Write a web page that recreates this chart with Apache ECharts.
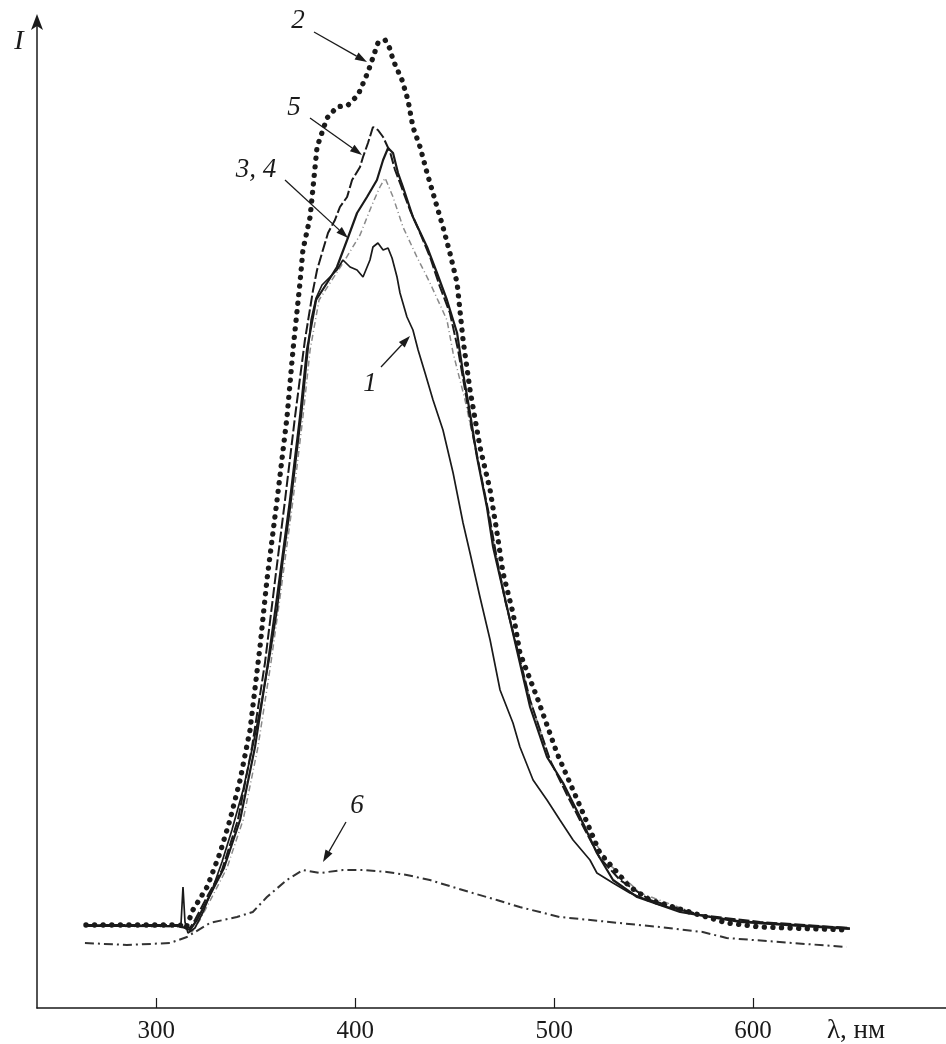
<!DOCTYPE html>
<html>
<head>
<meta charset="utf-8">
<script src="https://cdn.jsdelivr.net/npm/echarts@6/dist/echarts.min.js"></script>
<style>
html,body{margin:0;padding:0;background:#fff;}
#chart{width:946px;height:1044px;}
</style>
</head>
<body>
<div id="chart"></div>
<script>
// ---- data (λ in nm, I in arbitrary units) ----
const xTickValues = [300, 400, 500, 600];

const curve1 = [[264.6,8.3],[286.8,8.3],[309.4,8.2],[312.4,8.4],[313.4,12.1],[314.4,8.6],[315.9,7.5],[319.4,8.0],[323.5,9.6],[328,11.8],[333,14.6],[338,17.8],[343.6,21.8],[348.6,26.3],[353.1,30.8],[357.1,35.3],[360.7,39.8],[363.7,44.8],[367.2,49.8],[370.2,54.8],[373.2,59.8],[375.7,64.8],[377.8,68.8],[380.3,71.0],[383.3,72.3],[387.3,73.1],[390.8,73.8],[393.8,74.8],[397.4,74.1],[400.9,73.8],[403.9,73.1],[407.4,74.8],[408.9,76.1],[411.4,76.5],[414,75.8],[416.5,76.0],[418.5,75.0],[421,73.1],[422.5,71.5],[426,69.1],[429,67.8],[431.6,65.8],[435.1,63.5],[439.1,60.8],[444.1,57.8],[449.2,53.5],[454.2,48.5],[457.7,45.5],[462.7,41.1],[467.8,36.8],[472.8,31.8],[479.3,28.5],[482.8,26.1],[489.4,22.8],[496.4,20.8],[502.9,18.8],[509.5,16.8],[518,14.8],[521.5,13.5],[529.6,12.5],[538.1,11.5],[553.2,10.3],[573.3,9.3],[593.4,8.7],[623.6,8.3],[648.7,8.0]];

const curve2 = [[264.6,8.3],[311.9,8.3],[314.9,8.0],[318.4,9.8],[325.5,12.1],[332,15.5],[337,18.8],[342.1,22.8],[347.1,27.8],[352.1,36.1],[355.6,42.8],[360.7,50.8],[365.7,59.1],[368.7,65.8],[372.2,72.5],[373.7,75.8],[377.3,79.1],[380.8,86.1],[385.8,89.0],[390.8,90.1],[396.4,90.3],[401.4,91.3],[406.4,93.6],[411.4,96.5],[415,96.8],[417.5,95.9],[419,94.8],[423.5,92.8],[426.5,90.8],[429,88.1],[432.6,86.1],[436.1,83.5],[440.1,80.8],[444.1,78.1],[447.6,75.5],[451.2,72.5],[454.2,66.8],[457.7,61.8],[462.7,56.1],[467.8,51.8],[471.3,47.5],[474.3,43.5],[479.3,39.5],[482.8,35.5],[491.9,30.8],[501.4,25.5],[514.5,19.5],[523,15.5],[538.1,12.1],[548.2,10.8],[569.8,9.5],[586.9,8.5],[603.5,8.1],[648.7,7.8]];

const curve3 = [[264.6,8.2],[311.9,8.2],[316.9,7.8],[320.4,8.8],[327,11.3],[334,14.0],[342.1,18.8],[349.6,26.1],[356.1,34.5],[360.7,41.1],[367.2,50.8],[372.2,59.1],[375.7,65.8],[380.3,70.8],[385.8,72.5],[390.8,74.1],[395.9,76.8],[400.9,79.5],[405.9,81.1],[410.9,82.8],[414,84.8],[416.5,86.0],[419,85.5],[421.5,83.5],[424,82.1],[429,79.1],[436.1,76.1],[441.1,73.5],[446.1,70.8],[451.2,67.5],[454.2,63.5],[457.7,59.5],[461.2,55.1],[466.2,50.1],[469.3,46.1],[474.3,41.8],[479.3,37.5],[487.9,30.1],[496.4,25.1],[504.5,22.5],[513,19.1],[521.5,15.5],[529.6,12.8],[541.7,11.1],[563.3,9.6],[593.4,8.6],[623.6,8.2],[648.7,7.9]];

const curve4 = [[264.6,8.2],[311.9,8.1],[317.9,7.6],[321.9,8.8],[328.5,11.3],[335.5,14.0],[343.6,18.8],[351.1,26.1],[357.6,34.5],[362.2,41.1],[368.7,50.8],[373.7,59.1],[377.3,65.8],[381.8,70.8],[387.3,72.5],[394.8,74.8],[402.4,77.3],[408.4,80.3],[412.4,82.1],[415,83.0],[419,81.1],[424,78.1],[431,75.1],[437.6,72.5],[446.1,68.8],[449.2,65.5],[455.2,60.8],[462.7,53.8],[470.3,45.8],[477.8,38.8],[487.9,30.8],[497.9,24.8],[508,20.8],[518,17.3],[528.1,14.3],[543.2,11.5],[573.3,9.3],[603.5,8.5],[648.7,7.9]];

const curve5 = [[264.6,8.3],[311.9,8.3],[316.9,8.0],[319.4,8.8],[326,11.3],[333,13.8],[341,18.8],[348.1,26.1],[354.6,34.5],[359.7,42.8],[364.7,50.8],[369.7,59.1],[374.7,66.8],[378.8,71.8],[380.8,73.8],[383.3,75.5],[386.3,77.5],[389.8,78.8],[392.3,80.1],[395.9,81.1],[398.4,82.8],[402.4,84.1],[403.9,85.1],[406.4,86.5],[408.9,88.1],[411.4,87.8],[414,87.1],[417.5,85.6],[420,83.8],[422.5,82.5],[427.5,79.8],[432.6,77.5],[437.6,75.1],[442.6,72.1],[447.6,69.5],[451.7,65.8],[455.2,61.8],[458.7,57.8],[462.7,53.8],[467.8,48.8],[471.3,44.8],[475.3,40.8],[480.3,36.8],[487.9,30.8],[497.9,24.8],[506.5,21.3],[515.5,17.8],[523,15.0],[533.1,12.8],[548.2,10.8],[573.3,9.3],[603.5,8.6],[648.7,8.0]];

const curve6 = [[264.1,6.5],[285.2,6.3],[306.8,6.5],[315.4,7.1],[326.9,8.5],[340.5,9.1],[348.5,9.6],[355.6,11.1],[365.6,12.8],[373.7,13.8],[382.2,13.5],[393.8,13.8],[403.8,13.8],[415.9,13.6],[425.9,13.3],[437.5,12.8],[449,12.1],[459.1,11.5],[471.2,10.8],[482.7,10.1],[502.8,9.1],[553,8.1],[574.7,7.6],[586.7,7.0],[619.9,6.5],[647,6.1]];

const curveLabels = ['1', '2', '3', '4', '5', '6'];

// ---- chart ----
const chart = echarts.init(document.getElementById('chart'), null, {renderer: 'canvas'});
const serif = '"Liberation Serif", "DejaVu Serif", serif';
const ink = '#1a1a1a';

function lineSeries(name, data, lineStyle) {
  return {
    name: name, type: 'line', data: data, showSymbol: false, symbol: 'none',
    smooth: false, animation: false, lineStyle: Object.assign({color: ink, width: 1.6}, lineStyle),
    z: 3
  };
}

function arrow(x1, y1, x2, y2) {
  const ang = Math.atan2(y2 - y1, x2 - x1);
  const L = 12, W = 4;
  const bx = x2 - L * Math.cos(ang), by = y2 - L * Math.sin(ang);
  const px = -Math.sin(ang) * W, py = Math.cos(ang) * W;
  return [
    {type: 'line', shape: {x1: x1, y1: y1, x2: bx, y2: by}, style: {stroke: ink, lineWidth: 1.3}},
    {type: 'polygon', shape: {points: [[x2, y2], [bx + px, by + py], [bx - px, by - py]]}, style: {fill: ink}}
  ];
}

function label(text, x, y, size) {
  return {type: 'text', x: x, y: y, style: {text: text, font: 'italic ' + (size || 27) + 'px ' + serif, fill: ink, align: 'center', verticalAlign: 'middle'}};
}

const graphics = [].concat(
  [label('I', 19, 42, 28)],
  [label('2', 298, 21)], arrow(314, 32, 367, 62),
  [label('5', 294, 108)], arrow(310, 118, 362, 155),
  [label('3, 4', 256, 170)], arrow(285, 180, 348, 238),
  [label('1', 370, 384)], arrow(381, 367, 410, 336),
  [label('6', 357, 806)], arrow(346, 822, 323, 862),
  [{type: 'text', x: 827, y: 1031, style: {text: 'λ, нм', font: '27px ' + serif, fill: ink, align: 'left', verticalAlign: 'middle'}}]
);

chart.setOption({
  backgroundColor: '#fff',
  animation: false,
  grid: {left: 37, right: 0, top: 18, bottom: 36, containLabel: false},
  xAxis: {
    type: 'value', min: 240, max: 697,
    axisLine: {show: true, lineStyle: {color: ink, width: 1.5}},
    axisTick: {show: true, inside: true, length: 10, customValues: xTickValues, lineStyle: {color: ink, width: 1.2}},
    axisLabel: {show: true, customValues: xTickValues, margin: 11, fontFamily: serif, fontSize: 25, color: ink},
    splitLine: {show: false}
  },
  yAxis: {
    type: 'value', min: 0, max: 99,
    axisLine: {show: true, onZero: false, lineStyle: {color: ink, width: 1.5}, symbol: ['none', 'arrow'], symbolSize: [9, 16], symbolOffset: [0, 4]},
    axisTick: {show: false}, axisLabel: {show: false}, splitLine: {show: false}
  },
  series: [
    lineSeries(curveLabels[5], curve6, {type: [9, 4, 2, 4], width: 2, color: '#333'}),
    lineSeries(curveLabels[3], curve4, {type: [6, 3, 1, 3], width: 1.5, color: '#8a8a8a'}),
    lineSeries(curveLabels[0], curve1, {type: 'solid', width: 1.7}),
    lineSeries(curveLabels[2], curve3, {type: 'solid', width: 2.2}),
    lineSeries(curveLabels[4], curve5, {type: [11, 3], width: 2}),
    lineSeries(curveLabels[1], curve2, {type: [0.1, 8.5], cap: 'round', width: 5.3})
  ],
  graphic: graphics
});
</script>
</body>
</html>
